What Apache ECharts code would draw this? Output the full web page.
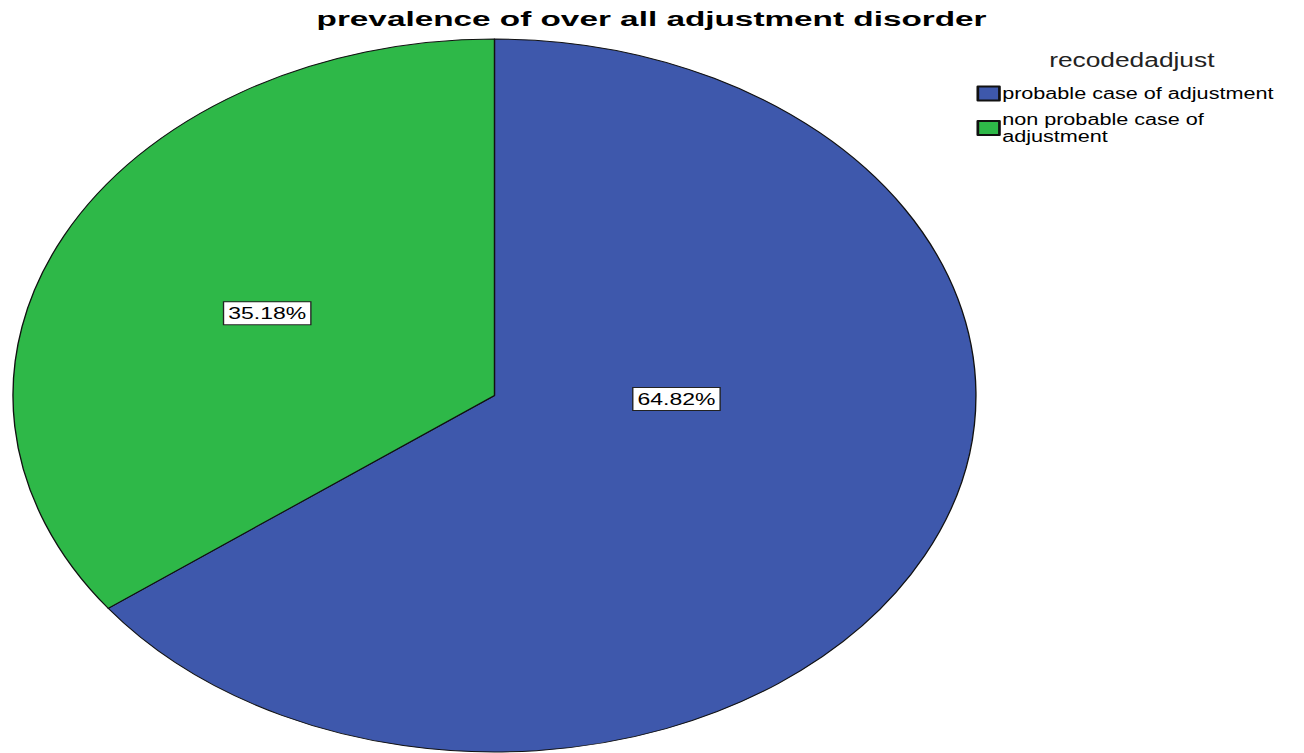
<!DOCTYPE html>
<html>
<head>
<meta charset="utf-8">
<script src="https://cdn.jsdelivr.net/npm/echarts@6/dist/echarts.min.js"></script>
<style>
  html, body { margin: 0; padding: 0; background: #fff; }
  #wrap { width: 1304px; height: 753px; overflow: hidden; position: relative; }
  #chart { width: 965.5px; height: 753px; transform: scaleX(1.3506); transform-origin: 0 0; }
</style>
</head>
<body>
<div id="wrap"><div id="chart"></div></div>
<script>
// ---- data ----
const chartTitle = 'prevalence of over all adjustment disorder';
const legendTitle = 'recodedadjust';
const categories = ['probable case of adjustment', 'non probable case of adjustment'];
const legendNames = ['probable case of adjustment', 'non probable case of\nadjustment'];
const percentages = [64.82, 35.18];
const colors = ['#3E58AC', '#2EB848'];

// ---- layout (unscaled space; the whole chart is stretched horizontally) ----
const CX = 366.1, CY = 395.5, R = 356.5;
const labelOffsets = [[0.378, 0.01], [-0.472, -0.231]]; // fractions of radius
const FONT = '"Liberation Sans", Arial, Helvetica, sans-serif';

const chart = echarts.init(document.getElementById('chart'), null, { renderer: 'svg' });
chart.setOption({
  animation: false,
  backgroundColor: '#fff',
  title: [
    {
      text: legendTitle, left: 838, top: 50, padding: 0, textAlign: 'center',
      textStyle: { fontFamily: FONT, fontWeight: 'normal', fontSize: 19.5, color: '#222' }
    }
  ],
  graphic: [{
    type: 'text', x: 482.4, y: 9, scaleX: 1.233, silent: true,
    style: {
      text: chartTitle, fill: '#000',
      font: 'bold 20px ' + FONT,
      align: 'center', verticalAlign: 'top',
      textAlign: 'center', textVerticalAlign: 'top'
    }
  }],
  legend: {
    orient: 'vertical', left: 723, top: 84, padding: 0,
    itemWidth: 16, itemHeight: 14, itemGap: 7, icon: 'rect',
    selectedMode: false,
    formatter: function (name) { return legendNames[categories.indexOf(name)]; },
    textStyle: { fontFamily: FONT, fontSize: 16, lineHeight: 17, color: '#000', padding: [2, 0, 0, -3] },
    data: categories
  },
  series: [{
    type: 'pie',
    center: [CX, CY],
    radius: [0, R],
    startAngle: 90,
    clockwise: true,
    label: {
      show: true, position: 'inside',
      formatter: function (p) { return p.value.toFixed(2) + '%'; },
      fontFamily: FONT, fontSize: 17, color: '#000',
      backgroundColor: '#fff', borderColor: '#222', borderWidth: 1,
      padding: [3, 3, 2, 3]
    },
    labelLayout: function (p) {
      const o = labelOffsets[p.dataIndex];
      return { x: CX + o[0] * R, y: CY + o[1] * R, align: 'center', verticalAlign: 'middle' };
    },
    labelLine: { show: false },
    emphasis: { disabled: true },
    itemStyle: { borderColor: '#111', borderWidth: 1 },
    data: categories.map(function (c, i) {
      return { name: c, value: percentages[i], itemStyle: { color: colors[i] } };
    })
  }]
});
</script>
</body>
</html>
